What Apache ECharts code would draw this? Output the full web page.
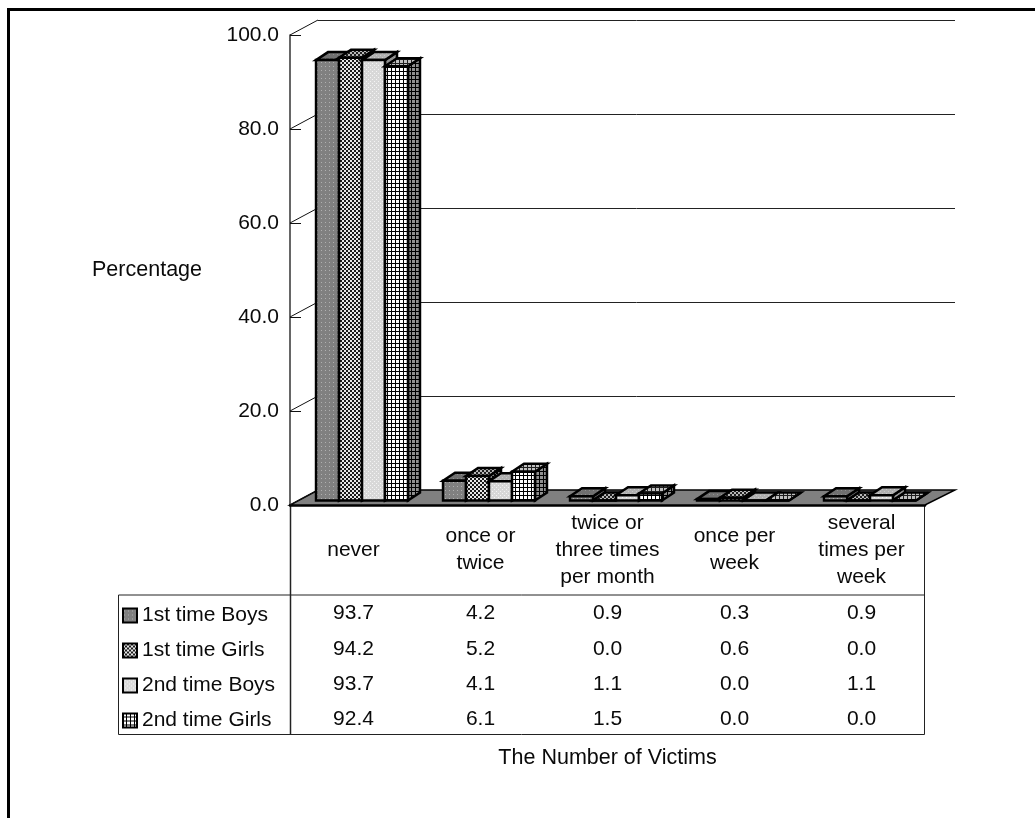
<!DOCTYPE html>
<html><head><meta charset="utf-8">
<style>html,body{margin:0;padding:0;background:#fff}#c{width:1035px;height:818px}</style>
<script src="https://cdn.jsdelivr.net/npm/echarts@6/dist/echarts.min.js"></script>
</head><body><div id="c"></div>
<script>
var categories = ['never','once or\ntwice','twice or\nthree times\nper month','once per\nweek','several\ntimes per\nweek'];
var seriesNames = ['1st time Boys','1st time Girls','2nd time Boys','2nd time Girls'];
var boys1 = [93.7,4.2,0.9,0.3,0.9];
var girls1 = [94.2,5.2,0.0,0.6,0.0];
var boys2 = [93.7,4.1,1.1,0.0,1.1];
var girls2 = [92.4,6.1,1.5,0.0,0.0];
var yTicks = [0,20,40,60,80,100];
var xTitle = 'The Number of Victims';
var yTitle = 'Percentage';
var allValues = [boys1,girls1,boys2,girls2];

var FONT = '"Liberation Sans", Arial, sans-serif';
var FS = 21;
var TEXT = '#0a0a0a';

function pat(rows, map){
  var c = document.createElement('canvas');
  c.width = rows[0].length; c.height = rows.length;
  var g = c.getContext('2d');
  rows.forEach(function(r,y){ for(var x=0;x<r.length;x++){ g.fillStyle = map[r[x]]; g.fillRect(x,y,1,1);} });
  return {image:c, repeat:'repeat'};
}
var P1 = ['aaaa','aaaa','abaa','aaaa'];
var P2 = ['aabb','aabb','bbaa','bbaa'];
var P3 = ['aaaa','aaba','aaaa','baaa'];
var P4 = ['bbba','bbba','bbba','aaaa'];
var fronts = [
  pat(P1,{a:'#808080',b:'#b0b0b0'}),
  pat(P2,{a:'#1a1a1a',b:'#e8e8e8'}),
  pat(P3,{a:'#d8d8d8',b:'#f4f4f4'}),
  pat(P4,{a:'#000000',b:'#ffffff'})
];
var sides = [
  pat(P1,{a:'#606060',b:'#808080'}),
  pat(P2,{a:'#000000',b:'#808080'}),
  pat(P3,{a:'#909090',b:'#a8a8a8'}),
  pat(P4,{a:'#000000',b:'#909090'})
];
var tops = [
  pat(P1,{a:'#707070',b:'#909090'}),
  pat(P2,{a:'#202020',b:'#b8b8b8'}),
  pat(P3,{a:'#b0b0b0',b:'#c8c8c8'}),
  pat(P4,{a:'#202020',b:'#c0c0c0'})
];

function barRender(si){
  return function(params, api){
    var cat = api.value(0), val = api.value(1);
    var band = api.size([1,0])[0];
    var b = api.coord([cat,0]), t = api.coord([cat,val]);
    var w = band*0.181, dx = 12, dy = 8, lift = 4.5;
    var x0 = b[0] - band/2 + band*0.205 + si*w, x1 = x0 + w;
    var yb = b[1]-lift, yt = t[1]-lift;
    var st = function(fill){ return {fill:fill, stroke:'#000', lineWidth:2.5, lineJoin:'miter'}; };
    return {type:'group', children:[
      {type:'polygon', shape:{points:[[x1,yb],[x1+dx,yb-dy],[x1+dx,yt-dy],[x1,yt]]}, style:st(sides[si])},
      {type:'polygon', shape:{points:[[x0,yt],[x1,yt],[x1+dx,yt-dy],[x0+dx,yt-dy]]}, style:st(tops[si])},
      {type:'rect', shape:{x:x0,y:yt,width:w,height:yb-yt}, style:st(fronts[si])}
    ]};
  };
}
var series = [];
// floor
series.push({type:'custom', xAxisIndex:0, yAxisIndex:0, silent:true, z:1, clip:false, data:[[0,0]],
  renderItem:function(p,api){
    var band = api.size([1,0])[0], a = api.coord([0,0]);
    var l = a[0]-band/2, r = l+band*categories.length, y = a[1];
    return {type:'polygon', shape:{points:[[l,y],[r,y],[r+30,y-15],[l+28,y-15]]},
      style:{fill:'#808080', stroke:'#000', lineWidth:1.5}};
  }});
// wall diagonals
series.push({type:'custom', xAxisIndex:0, yAxisIndex:0, silent:true, z:1, clip:false,
  data:yTicks.map(function(v){return [0,v];}),
  renderItem:function(p,api){
    var band = api.size([1,0])[0], a = api.coord([0,api.value(1)]);
    var l = a[0]-band/2;
    return {type:'line', shape:{x1:l,y1:a[1],x2:l+28,y2:a[1]-15}, style:{stroke:'#111', lineWidth:1}};
  }});
allValues.forEach(function(vals,si){
  series.push({type:'custom', name:seriesNames[si], xAxisIndex:0, yAxisIndex:0, z:3+si, clip:false,
    itemStyle:{color:fronts[si], borderColor:'#000', borderWidth:2},
    data:vals.map(function(v,i){return [i,v];}), renderItem:barRender(si)});
});
// data table values
var rowY = [613,649,684,719];
allValues.forEach(function(vals,si){
  series.push({type:'custom', xAxisIndex:0, yAxisIndex:0, silent:true, z:10, clip:false,
    data:vals.map(function(v,i){return [i,v];}),
    renderItem:function(p,api){
      var a = api.coord([api.value(0),0]);
      return {type:'text', style:{text:api.value(1).toFixed(1), x:a[0], y:rowY[si], align:'center', verticalAlign:'middle',
        font:FS+'px '+FONT, fill:TEXT}};
    }});
});

var option = {
  animation:false, backgroundColor:'#fff',
  textStyle:{fontFamily:FONT},
  legend:{data:seriesNames, orient:'vertical', left:122, top:598, itemWidth:14, itemHeight:14, itemGap:0, icon:'rect',
    selectedMode:false, padding:0,
    textStyle:{fontSize:FS, color:TEXT, fontFamily:FONT, lineHeight:35},
    itemStyle:{borderColor:'#000', borderWidth:2}},
  grid:[
    {left:290, top:35, width:635, height:470, containLabel:false},
    {left:318, top:20, width:637, height:470, containLabel:false}
  ],
  xAxis:[
    {type:'category', gridIndex:0, data:categories, boundaryGap:true, position:'bottom',
     axisLine:{show:true, lineStyle:{color:'#000', width:2.5}}, axisTick:{show:false},
     axisLabel:{margin:45, verticalAlign:'middle', fontSize:FS, color:TEXT, lineHeight:27, fontFamily:FONT, interval:0},
     name:xTitle, nameLocation:'middle', nameGap:242, nameTextStyle:{fontSize:21.5, color:TEXT, fontFamily:FONT}, splitLine:{show:false}},
    {type:'category', gridIndex:1, data:categories, show:false}
  ],
  yAxis:[
    {type:'value', gridIndex:0, min:0, max:100, interval:20,
     axisLine:{show:true, lineStyle:{color:'#333', width:1.5}},
     axisTick:{show:true, inside:true, length:11, lineStyle:{color:'#111', width:1}},
     axisLabel:{formatter:function(v){return v.toFixed(1);}, margin:11, fontSize:FS, color:TEXT, fontFamily:FONT},
     splitLine:{show:false},
     name:yTitle, nameLocation:'middle', nameRotate:0, nameGap:88, nameTextStyle:{fontSize:21.5, color:TEXT, fontFamily:FONT, padding:[8,0,0,0]}},
    {type:'value', gridIndex:1, min:0, max:100, interval:20, axisLine:{show:false}, axisTick:{show:false}, axisLabel:{show:false},
     splitLine:{show:true, lineStyle:{color:'#222', width:1}}}
  ],
  graphic:[
    {type:'polyline', silent:true, shape:{points:[[8.5,818],[8.5,9.5],[1035,9.5]]}, style:{stroke:'#000', lineWidth:3, fill:null}},
    {type:'polyline', silent:true, shape:{points:[[290.5,505],[290.5,734.5]]}, style:{stroke:'#222', lineWidth:1.5, fill:null}},
    {type:'polyline', silent:true, shape:{points:[[924.5,505],[924.5,734.5]]}, style:{stroke:'#222', lineWidth:1, fill:null}},
    {type:'polyline', silent:true, shape:{points:[[118.5,595],[924.5,595]]}, style:{stroke:'#222', lineWidth:1, fill:null}},
    {type:'polyline', silent:true, shape:{points:[[118.5,595],[118.5,734.5],[924.5,734.5]]}, style:{stroke:'#222', lineWidth:1, fill:null}}
  ],
  series:series
};
var chart = echarts.init(document.getElementById('c'), null, {renderer:'canvas'});
chart.setOption(option);
</script></body></html>
